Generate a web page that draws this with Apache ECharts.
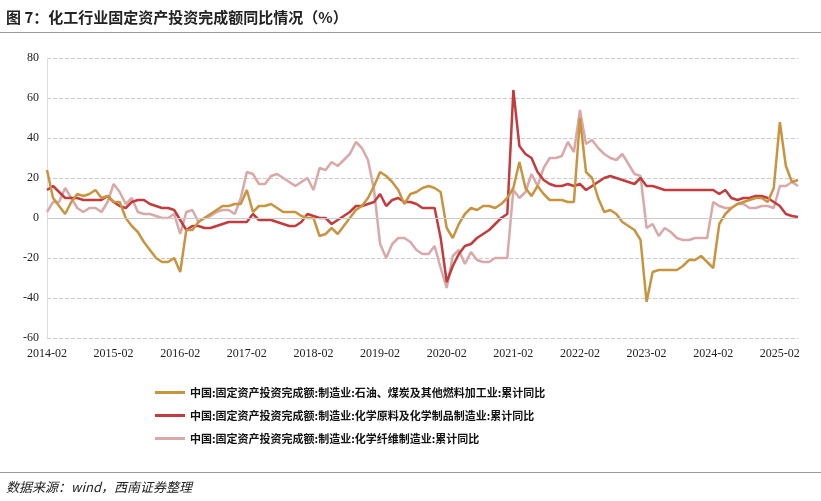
<!DOCTYPE html>
<html>
<head>
<meta charset="utf-8">
<script src="https://cdn.jsdelivr.net/npm/echarts@6/dist/echarts.min.js"></script>
<style>
  body { margin: 0; background: #fff; font-family: "Noto Sans CJK SC", sans-serif; }
  .title { position: absolute; left: 6px; top: 6px; font-size: 15px; font-weight: bold; color: #222; }
  .rule { position: absolute; left: 0; width: 821px; height: 1px; background: #999; }
  .source { position: absolute; left: 6px; top: 477px; font-size: 13px; font-style: italic; color: #222; }
  #chart { position: absolute; left: 0; top: 0; width: 821px; height: 501px; }
</style>
</head>
<body>
<div id="chart"></div>
<div class="title">图 7：化工行业固定资产投资完成额同比情况（%）</div>
<div class="rule" style="top:32px"></div>
<div class="rule" style="top:472px"></div>
<div class="source">数据来源：wind，西南证券整理</div>
<script>
const chart = echarts.init(document.getElementById('chart'))

const years = ['2014', '2015', '2016', '2017', '2018', '2019', '2020', '2021', '2022', '2023', '2024', '2025']
const months = ['02', '03', '04', '05', '06', '07', '08', '09', '10', '11', '12']

// 石油、煤炭及其他燃料加工业 (Feb..Dec each year)
const oilCoal = [
  24, 10, 6, 2, 8, 12, 11, 12, 14, 10, 11,
  8, 8, 0, -4, -7, -12, -16, -20, -22, -22, -20,
  -27, -6, -6, -2, 0, 2, 4, 6, 6, 7, 7,
  14, 3, 6, 6, 7, 5, 3, 3, 3, 1, 0,
  0, -9, -8, -5, -8, -4, 0, 4, 6, 10, 16,
  23, 21, 18, 14, 7, 12, 13, 15, 16, 15, 13,
  -5, -10, -3, 2, 5, 4, 6, 6, 5, 7, 10,
  15, 28, 15, 11, 16, 12, 9, 9, 9, 8, 8,
  50, 23, 20, 10, 3, 4, 2, -2, -4, -6, -11,
  -42, -27, -26, -26, -26, -26, -24, -21, -21, -19, -22,
  -25, -3, 2, 5, 7, 8, 9, 10, 10, 8, 15,
  48, 26, 18, 19,
]
// 化学原料及化学制品制造业
const chemRaw = [
  14, 16, 13, 10, 10, 10, 9, 9, 9, 9, 11,
  8, 6, 5, 8, 9, 9, 7, 6, 5, 5, 4,
  -1, -6, -4, -4, -5, -5, -4, -3, -2, -2, -2,
  -2, 2, -1, -1, -1, -2, -3, -4, -4, -2, 2,
  1, 0, 0, -3, -1, 1, 3, 6, 6, 7, 8,
  12, 6, 9, 10, 8, 8, 7, 5, 5, 5, -10,
  -32, -24, -18, -14, -13, -10, -8, -6, -3, 0, 2,
  64, 36, 32, 30, 23, 19, 17, 16, 16, 17, 16,
  17, 14, 16, 18, 20, 21, 20, 19, 18, 17, 20,
  16, 16, 15, 14, 14, 14, 14, 14, 14, 14, 14,
  14, 12, 14, 10, 9, 10, 10, 11, 11, 10, 8,
  6, 2, 1, 0.5,
]
// 化学纤维制造业
const chemFiber = [
  3, 8, 8, 15, 10, 5, 3, 5, 5, 3, 8,
  17, 13, 7, 10, 3, 2, 2, 1, 0, 0, 2,
  -8, 3, 4, -2, 0, 1, 3, 4, 4, 2, 10,
  23, 22, 17, 17, 21, 22, 20, 18, 16, 18, 20,
  14, 25, 24, 28, 26, 29, 32, 38, 35, 29, 14,
  -13, -20, -13, -10, -10, -12, -16, -18, -18, -14, -25,
  -35, -19, -16, -23, -17, -21, -22, -22, -20, -20, -20,
  14, 10, 13, 22, 16, 25, 30, 30, 31, 38, 33,
  54, 37, 39, 35, 32, 30, 29, 32, 27, 22, 21,
  -5, -3, -9, -5, -7, -10, -11, -11, -10, -10, -10,
  8, 6, 5, 5, 7, 7, 5, 5, 6, 6, 5,
  16, 16, 18, 16,
]

const dates = []
years.forEach((y) => months.forEach((m) => dates.push(`${y}-${m}`)))
dates.length = oilCoal.length

const names = [
  '中国:固定资产投资完成额:制造业:石油、煤炭及其他燃料加工业:累计同比',
  '中国:固定资产投资完成额:制造业:化学原料及化学制品制造业:累计同比',
  '中国:固定资产投资完成额:制造业:化学纤维制造业:累计同比',
]
const colors = ['#C99440', '#C23B3D', '#D9A8A8']

const axisFont = { fontFamily: 'Liberation Serif', fontSize: 12, color: '#222' }

const mkSeries = (i, data) => ({
  name: names[i],
  type: 'line',
  data: data,
  showSymbol: false,
  lineStyle: { color: colors[i], width: 2.5 },
  itemStyle: { color: colors[i] },
  z: 3 - i,
})

const series = [mkSeries(2, chemFiber), mkSeries(1, chemRaw), mkSeries(0, oilCoal)]
series[0].markLine = {
  silent: true,
  symbol: 'none',
  label: { show: false },
  lineStyle: { color: '#ccc', type: 'solid', width: 1 },
  data: [{ yAxis: 0 }],
}

chart.setOption({
  animation: false,
  grid: { left: 47, right: 23, top: 58, bottom: 163 },
  legend: {
    orient: 'vertical',
    left: 150,
    top: 382,
    itemGap: 12,
    itemWidth: 30,
    itemHeight: 3,
    icon: 'rect',
    data: names,
    textStyle: { fontSize: 11, color: '#111', fontFamily: 'Noto Sans CJK SC', fontWeight: 'bold' },
  },
  xAxis: {
    type: 'category',
    data: dates,
    boundaryGap: false,
    axisLine: { onZero: false, show: false },
    axisTick: { show: false },
    axisLabel: { ...axisFont, interval: 10, margin: 10 },
  },
  yAxis: {
    type: 'value',
    min: -60,
    max: 80,
    interval: 20,
    axisLine: { show: true, lineStyle: { color: '#ddd' } },
    axisTick: { show: false },
    axisLabel: { ...axisFont, margin: 8 },
    splitLine: { lineStyle: { color: '#ccc', type: 'dashed' } },
  },
  series: series,
})
</script>
</body>
</html>
